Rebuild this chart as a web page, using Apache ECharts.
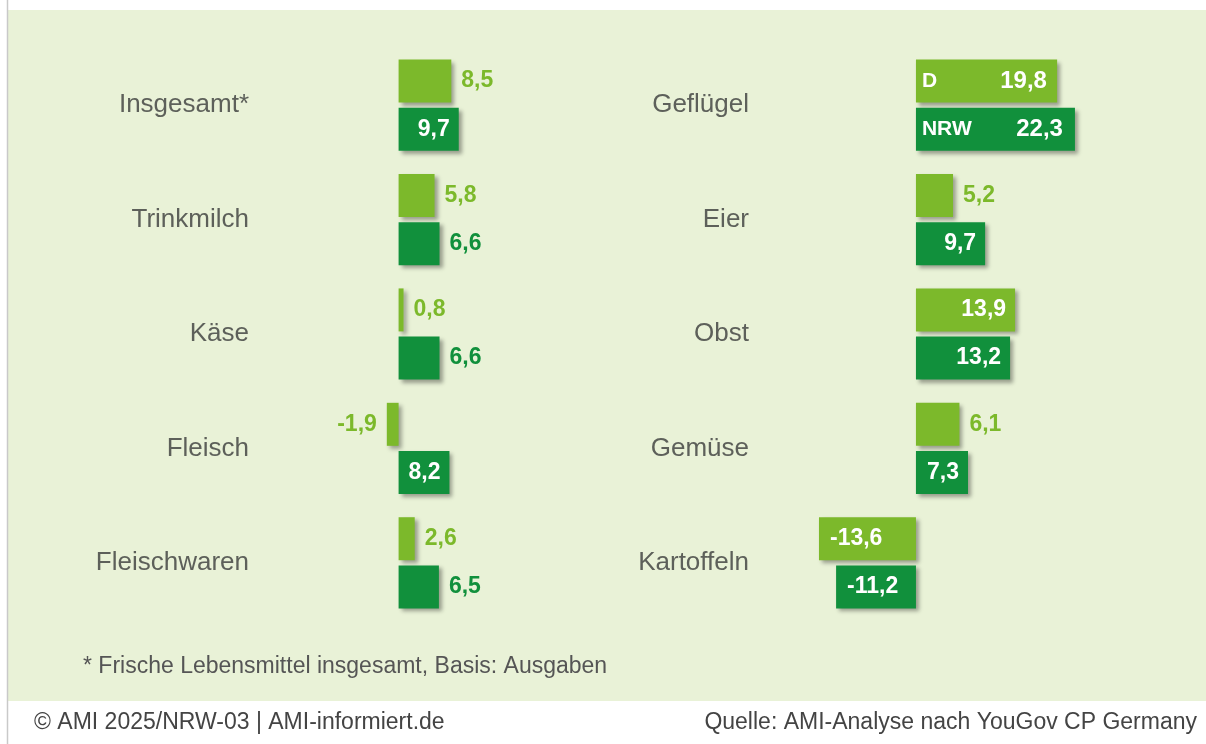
<!DOCTYPE html>
<html>
<head>
<meta charset="utf-8">
<script src="https://cdn.jsdelivr.net/npm/echarts@6/dist/echarts.min.js"></script>
<style>
  html, body { margin: 0; padding: 0; background: #fff; }
  #chart { width: 1206px; height: 744px; }
</style>
</head>
<body>
<div id="chart"></div>
<script>
// left panel
const leftCategories = ['Insgesamt*', 'Trinkmilch', 'Käse', 'Fleisch', 'Fleischwaren']
const leftD = [8.5, 5.8, 0.8, -1.9, 2.6]
const leftNRW = [9.7, 6.6, 6.6, 8.2, 6.5]

// right panel
const rightCategories = ['Geflügel', 'Eier', 'Obst', 'Gemüse', 'Kartoffeln']
const rightD = [19.8, 5.2, 13.9, 6.1, -13.6]
const rightNRW = [22.3, 9.7, 13.2, 7.3, -11.2]

const seriesNames = ['D', 'NRW']
const footnote = '* Frische Lebensmittel insgesamt, Basis: Ausgaben'
const footerLeft = '© AMI 2025/NRW-03 | AMI-informiert.de'
const footerRight = 'Quelle: AMI-Analyse nach YouGov CP Germany'

// which value labels sit inside the bar
const leftDInside = [false, false, false, false, false]
const leftNRWInside = [true, false, false, true, false]
const rightDInside = [true, false, true, false, true]
const rightNRWInside = [true, true, true, true, true]

const LIGHT = '#7cb92b'
const DARK = '#11903c'
const FONT = '"Liberation Sans", Arial, sans-serif'

const fmt = v => v.toFixed(1).replace('.', ',')

const buildData = function (values, inside, color, name, withName) {
    return values.map((v, i) => {
        let label
        if (inside[i]) {
            label = {
                show: true,
                position: v < 0 ? 'insideLeft' : 'insideRight',
                distance: v < 0 ? 11 : 9,
                color: '#fff'
            }
            if (withName && i === 0) {
                label.position = 'insideLeft'
                label.distance = 6
                label.formatter = '{n|' + name + '}{v|' + fmt(v) + '}'
                label.rich = {
                    n: { width: 60, align: 'left', color: '#fff', fontSize: 21, fontWeight: 'bold', fontFamily: FONT },
                    v: { width: name === 'D' ? 65 : 81, align: 'right', color: '#fff', fontSize: 24, fontWeight: 'bold', fontFamily: FONT }
                }
            }
        } else {
            label = {
                show: true,
                position: v < 0 ? 'left' : 'right',
                distance: 10,
                color: color
            }
        }
        return { value: v, label: label }
    })
}

const barSeries = function (name, values, inside, color, axisIndex, withName) {
    return {
        name: name,
        type: 'bar',
        xAxisIndex: axisIndex,
        yAxisIndex: axisIndex,
        barWidth: 43,
        barGap: '12%',
        itemStyle: {
            color: color,
            shadowColor: 'rgba(0,0,0,0.35)',
            shadowBlur: 4,
            shadowOffsetX: 3,
            shadowOffsetY: 3
        },
        label: {
            fontSize: 23,
            fontWeight: 'bold',
            fontFamily: FONT,
            formatter: p => fmt(p.value)
        },
        data: buildData(values, inside, color, name, withName)
    }
}

const valueAxis = function (idx, min, max) {
    return {
        type: 'value',
        gridIndex: idx,
        min: min,
        max: max,
        axisLine: { show: false },
        axisTick: { show: false },
        axisLabel: { show: false },
        splitLine: { show: false }
    }
}

const catAxis = function (idx, data, margin) {
    return {
        type: 'category',
        gridIndex: idx,
        inverse: true,
        data: data,
        axisLine: { show: false },
        axisTick: { show: false },
        axisLabel: {
            margin: margin,
            fontSize: 26,
            color: '#5d605a',
            fontFamily: FONT
        }
    }
}

const myChart = echarts.init(document.getElementById('chart'))

myChart.setOption({
    backgroundColor: '#fff',
    animation: false,
    graphic: [
        {
            type: 'rect',
            silent: true,
            z: -10,
            shape: { x: 8, y: 10, width: 1200, height: 691 },
            style: { fill: '#e9f2d7' }
        },
        {
            type: 'line',
            silent: true,
            z: -9,
            shape: { x1: 7.5, y1: 0, x2: 7.5, y2: 744 },
            style: { stroke: '#c9c9c9', lineWidth: 1.5 }
        },
        {
            type: 'text',
            left: 83,
            top: 655,
            style: { text: footnote, fontSize: 23, fill: '#555', fontFamily: FONT }
        },
        {
            type: 'text',
            left: 34,
            top: 711,
            style: { text: footerLeft, fontSize: 23, fill: '#444', fontFamily: FONT }
        },
        {
            type: 'text',
            right: 9,
            top: 711,
            style: { text: footerRight, fontSize: 23, fill: '#444', fontFamily: FONT }
        }
    ],
    grid: [
        { left: 380, width: 80.6, top: 48, height: 572 },
        { left: 809, width: 285.2, top: 48, height: 572 }
    ],
    xAxis: [valueAxis(0, -3, 10), valueAxis(1, -15, 25)],
    yAxis: [catAxis(0, leftCategories, 131), catAxis(1, rightCategories, 60)],
    series: [
        barSeries(seriesNames[0], leftD, leftDInside, LIGHT, 0, false),
        barSeries(seriesNames[1], leftNRW, leftNRWInside, DARK, 0, false),
        barSeries(seriesNames[0], rightD, rightDInside, LIGHT, 1, true),
        barSeries(seriesNames[1], rightNRW, rightNRWInside, DARK, 1, true)
    ]
})
</script>
</body>
</html>
